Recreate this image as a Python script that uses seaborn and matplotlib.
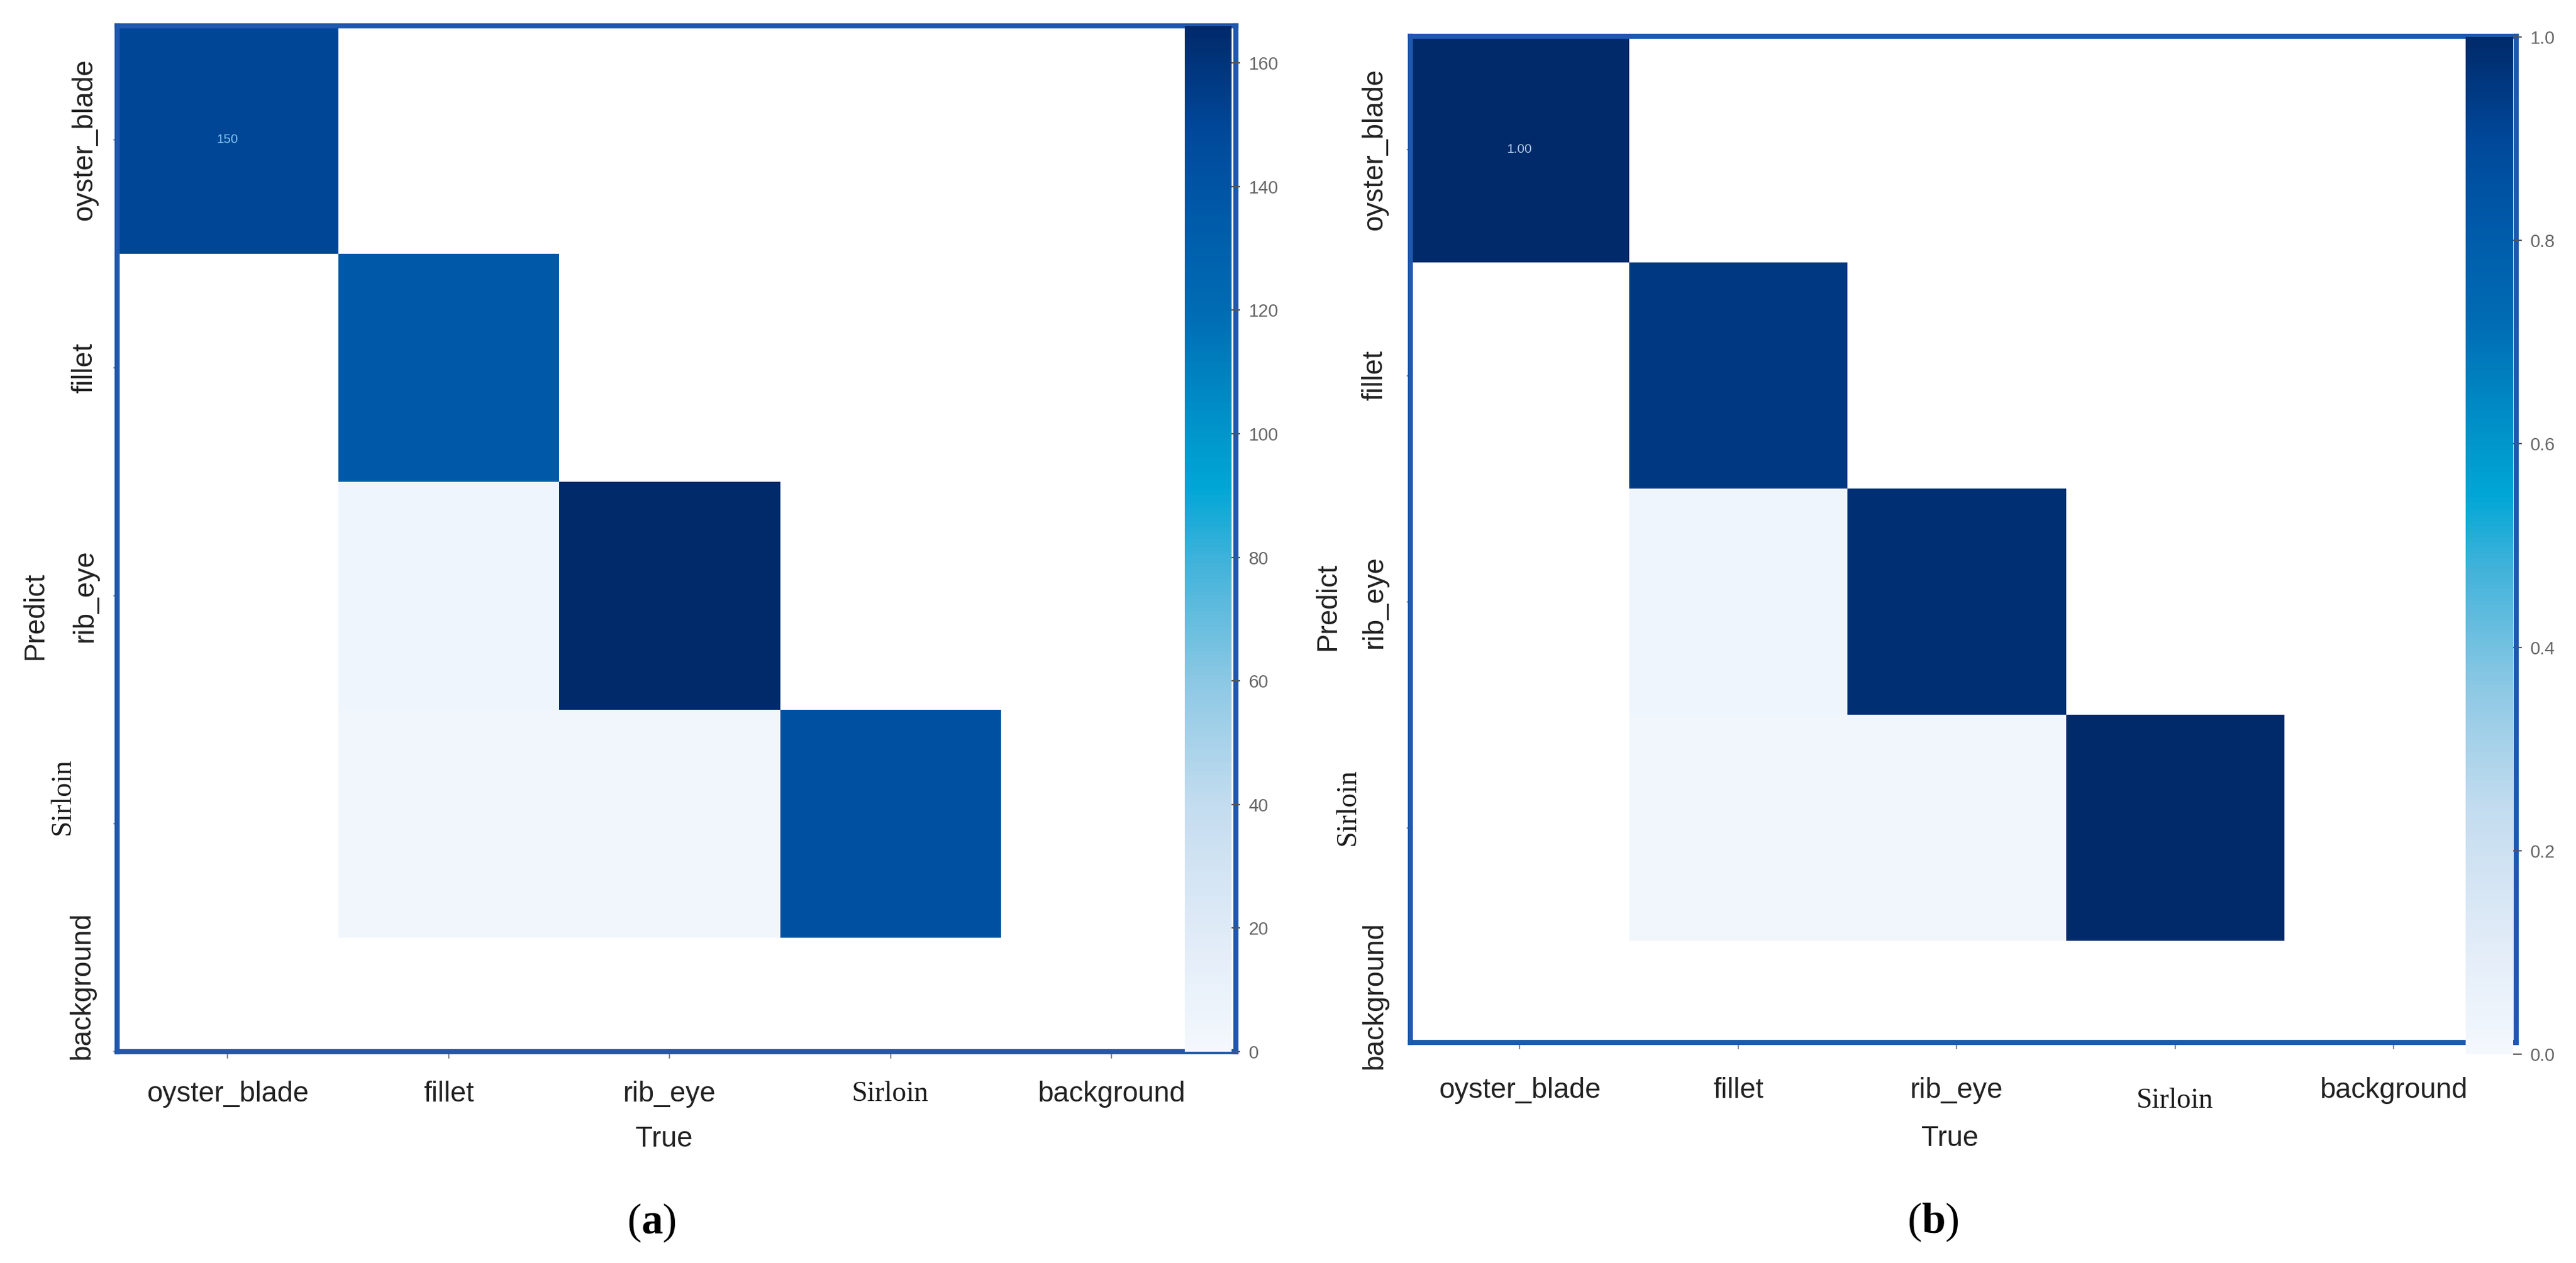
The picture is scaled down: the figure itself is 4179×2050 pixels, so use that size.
import numpy as np
import pandas as pd
import matplotlib
matplotlib.use("Agg")
import matplotlib.pyplot as plt
import matplotlib.transforms as mtransforms
from matplotlib.colors import LinearSegmentedColormap
import seaborn as sns

# classes (rows = Predict, columns = True)
classes = ["oyster_blade", "fillet", "rib_eye", "Sirloin", "background"]

# (a) raw counts
counts = [
    [150, 0, 0, 0, 0],
    [0, 136, 0, 0, 0],
    [0, 5, 166, 0, 0],
    [0, 3, 3, 143, 0],
    [0, 0, 0, 0, 0],
]
# (b) normalised per true class
normalized = [
    [1.00, 0, 0, 0, 0],
    [0, 0.95, 0, 0, 0],
    [0, 0.03, 0.98, 0, 0],
    [0, 0.02, 0.02, 1.00, 0],
    [0, 0, 0, 0, 0],
]
counts_ticks = [0, 20, 40, 60, 80, 100, 120, 140, 160]
norm_ticks = [0.0, 0.2, 0.4, 0.6, 0.8, 1.0]

plt.rcParams["font.family"] = ["Liberation Sans", "DejaVu Sans"]
plt.rcParams["mathtext.fontset"] = "custom"
plt.rcParams["mathtext.rm"] = "Liberation Serif"
plt.rcParams["mathtext.bf"] = "Liberation Serif:bold"
SERIF = ["Liberation Serif", "DejaVu Serif"]

cmap = LinearSegmentedColormap.from_list("cm_blues", [
    (0.00, "#f4f8fd"), (0.12, "#dfeaf7"), (0.24, "#c3dcef"), (0.36, "#8dc8e4"),
    (0.48, "#3fb2da"), (0.55, "#00a6d6"), (0.62, "#0090c8"), (0.72, "#006cb4"),
    (0.82, "#0059a8"), (0.90, "#00489a"), (1.00, "#002a6a"),
])

W, H, DPI = 4179, 2050, 200
fig = plt.figure(figsize=(W / DPI, H / DPI), dpi=DPI)
FRAME = "#1f58ad"
FS = 16.5


def box(l, t, r, b):
    return [l / W, 1 - b / H, (r - l) / W, (b - t) / H]


def draw_panel(values, annot_text, ticks, ax_px, cb_px, xmax, ymax,
               xpad, ypad, predict_xy, true_xy, sirloin_xy, bg_xy,
               sirloin_drop, annot_color):
    ax = fig.add_axes(box(*ax_px))
    cax = fig.add_axes(box(*cb_px))
    df = pd.DataFrame(values, index=classes, columns=classes)
    annot = np.full(df.shape, "", dtype=object)
    annot[0, 0] = annot_text
    sns.heatmap(df, ax=ax, cmap=cmap, mask=(df.values == 0), vmin=0,
                annot=annot, fmt="", annot_kws={"size": 7.5, "color": annot_color},
                cbar_ax=cax, xticklabels=classes, yticklabels=classes)
    ax.set_xlim(0, xmax)
    ax.set_ylim(ymax, 0)
    for s in ax.spines.values():
        s.set_visible(True)
        s.set_color(FRAME)
        s.set_linewidth(3)
    ax.tick_params(axis="x", length=4, width=0.8, color="#888888", pad=xpad,
                   labelsize=FS, labelcolor="#222222")
    ax.tick_params(axis="y", length=2, width=0.8, color="#888888", pad=ypad,
                   labelsize=FS, labelcolor="#222222")
    ylabels = [c if c not in ("Sirloin", "background") else "" for c in classes]
    ax.set_yticklabels(ylabels, rotation=90, va="center")
    ax.set_xticklabels(classes, rotation=0)

    ax.set_xlabel("True", fontsize=FS, color="#222222")
    ax.xaxis.set_label_coords(*true_xy)
    ax.set_ylabel("Predict", fontsize=FS, color="#222222")
    ax.yaxis.set_label_coords(*predict_xy)

    ax.text(*sirloin_xy, "Sirloin", transform=ax.transAxes, rotation=90,
            ha="center", va="center", fontsize=FS, family=SERIF, color="#1a1a1a")
    ax.text(*bg_xy, "background", transform=ax.transAxes, rotation=90,
            ha="center", va="center", fontsize=FS, color="#222222")

    lbl = ax.get_xticklabels()[3]
    lbl.set_fontfamily(SERIF)
    lbl.set_color("#1a1a1a")
    if sirloin_drop:
        lbl.set_transform(lbl.get_transform() + mtransforms.ScaledTranslation(
            0, -sirloin_drop / DPI, fig.dpi_scale_trans))

    cb = ax.collections[0].colorbar
    cb.outline.set_visible(False)
    cb.set_ticks(ticks)
    cax.tick_params(length=5, width=0.8, color="#555555", labelsize=10.5,
                    labelcolor="#666666", pad=5)
    return ax


draw_panel(counts, "150", counts_ticks,
           ax_px=(190, 42, 2005, 1707), cb_px=(1922, 42, 1998, 1707),
           xmax=1815 / 358.5, ymax=4.5, xpad=13, ypad=9,
           predict_xy=(-0.061, 0.425), true_xy=(0.489, -0.072),
           sirloin_xy=(-0.0485, 0.249), bg_xy=(-0.0314, 0.064),
           sirloin_drop=0, annot_color="#7cc4ec")

draw_panel(normalized, "1.00", norm_ticks,
           ax_px=(2288, 59, 4082, 1692), cb_px=(4000, 60, 4077, 1711),
           xmax=1794 / 354.5, ymax=1633 / 367, xpad=16, ypad=11,
           predict_xy=(-0.0624, 0.433), true_xy=(0.488, -0.082),
           sirloin_xy=(-0.0563, 0.234), bg_xy=(-0.0323, 0.0465),
           sirloin_drop=18, annot_color="#b0c8e6")

fig.text(1057 / W, 1 - 1985 / H, r"($\mathbf{a}$)", ha="center", va="center",
         fontsize=25, family=SERIF)
fig.text(3136 / W, 1 - 1984 / H, r"($\mathbf{b}$)", ha="center", va="center",
         fontsize=25, family=SERIF)

fig.savefig("out.png", dpi=DPI, facecolor="white")
